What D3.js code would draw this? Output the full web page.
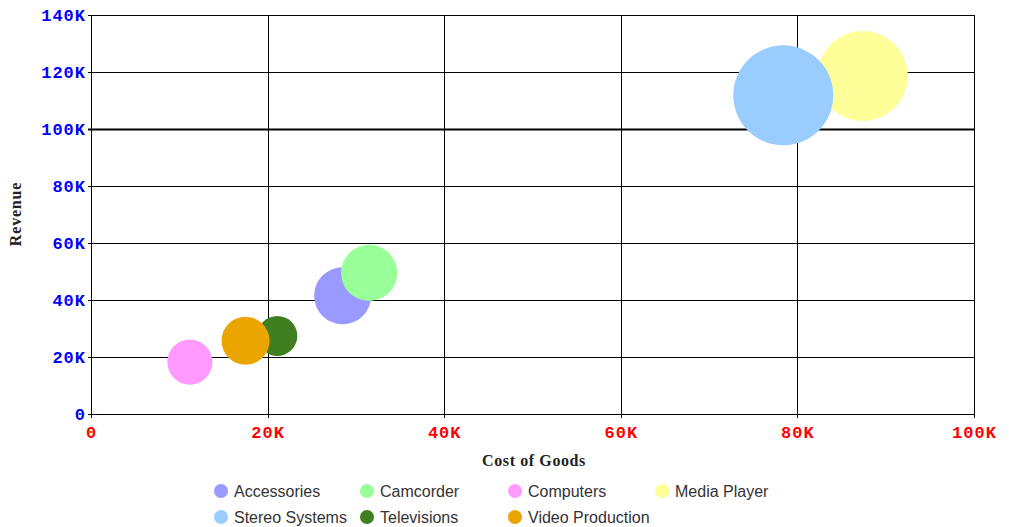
<!DOCTYPE html>
<html><head><meta charset="utf-8">
<script src="https://cdn.jsdelivr.net/npm/d3@7"></script>
<style>
html,body{margin:0;padding:0;background:#fff;}
svg{display:block;}
</style></head>
<body>
<svg id="chart" width="1009" height="527"></svg>
<script>
const categories = ["Accessories","Camcorder","Computers","Media Player","Stereo Systems","Televisions","Video Production"];
const costOfGoods = [28500, 31500, 11200, 87400, 78400, 21100, 17500];
const revenue = [41500, 49500, 18200, 118600, 111800, 27400, 25700];
const bubbleSize = [32.5, 31.5, 20.3, 81, 100, 16, 23];
const colors = ["#9999FF","#99FF99","#FF99FF","#FFFF99","#99CCFF","#3F7F1F","#EBA500"];
const xTicks = [0,20000,40000,60000,80000,100000];
const yTicks = [0,20000,40000,60000,80000,100000,120000,140000];

const svg = d3.select("#chart");
const L=91, R=974, T=15, B=414;
const x = d3.scaleLinear().domain([0,100000]).range([L,R]);
const y = d3.scaleLinear().domain([0,140000]).range([B,T]);
const r = d3.scaleSqrt().domain([0,100]).range([0,50]);
const fmt = v => v===0 ? "0" : (v/1000)+"K";

// grid
const g = svg.append("g");
g.selectAll(".hg").data(yTicks).join("line")
  .attr("x1",L-3).attr("x2",R).attr("y1",d=>Math.round(y(d))+0.5).attr("y2",d=>Math.round(y(d))+0.5)
  .attr("stroke","#000").attr("stroke-width",d=>d===100000?2:1);
g.selectAll(".vg").data(xTicks).join("line")
  .attr("y1",T).attr("y2",B+4).attr("x1",d=>Math.round(x(d))+0.5).attr("x2",d=>Math.round(x(d))+0.5)
  .attr("stroke","#000").attr("stroke-width",1);
g.append("line").attr("x1",L).attr("x2",R+1).attr("y1",T+0.5).attr("y2",T+0.5).attr("stroke","#000");

// axes labels
const yAxis = d3.axisLeft(y).tickValues(yTicks).tickFormat(fmt).tickSize(0).tickPadding(5);
const ya = svg.append("g").attr("transform",`translate(${L},0)`).call(yAxis);
ya.select(".domain").remove();
ya.selectAll("text").attr("fill","#0000FF").style("font-family","'Liberation Mono', monospace")
  .style("font-weight","bold").style("font-size","17px").style("letter-spacing","1px").attr("dy","0.35em");

const xAxis = d3.axisBottom(x).tickValues(xTicks).tickFormat(fmt).tickSize(0).tickPadding(12);
const xa = svg.append("g").attr("transform",`translate(0,${B})`).call(xAxis);
xa.select(".domain").remove();
xa.selectAll("text").attr("fill","#FF0000").style("font-family","'Liberation Mono', monospace")
  .style("font-weight","bold").style("font-size","17px").style("letter-spacing","1px");

// bubbles
const data = categories.map((c,i)=>({c, x:costOfGoods[i], y:revenue[i], s:bubbleSize[i], col:colors[i]}));
svg.append("g").selectAll("circle").data(data).join("circle")
  .attr("cx",d=>x(d.x)).attr("cy",d=>y(d.y)).attr("r",d=>r(d.s)).attr("fill",d=>d.col);

// titles
svg.append("text").attr("x",534).attr("y",466).attr("text-anchor","middle")
  .style("font-family","'Liberation Serif', serif").style("font-weight","bold").style("font-size","16px")
  .style("letter-spacing","0.6px").attr("fill","#222").text("Cost of Goods");
svg.append("text").attr("transform","translate(21,214) rotate(-90)").attr("text-anchor","middle")
  .style("font-family","'Liberation Serif', serif").style("font-weight","bold").style("font-size","16px")
  .style("letter-spacing","0.8px").attr("fill","#222").text("Revenue");

// legend
const colX = [221, 367, 515, 662];
const rowY = [491, 517];
const lg = svg.append("g").selectAll("g").data(data).join("g")
  .attr("transform",(d,i)=>`translate(${colX[i%4]},${rowY[Math.floor(i/4)]})`);
lg.append("circle").attr("r",7).attr("fill",d=>d.col);
lg.append("text").attr("x",13).attr("dy","0.35em")
  .style("font-family","'Liberation Sans', Arial, sans-serif").style("font-size","16px")
  .attr("fill","#333").text(d=>d.c);
</script>
</body></html>
